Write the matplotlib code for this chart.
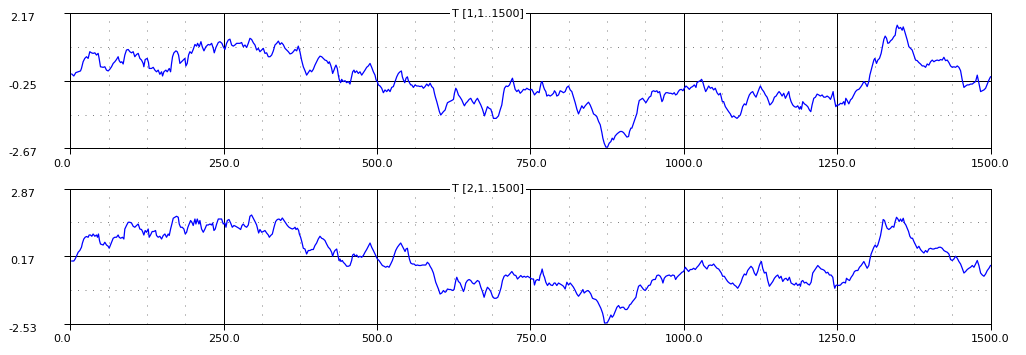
import matplotlib
matplotlib.use("Agg")
import matplotlib.pyplot as plt
from matplotlib.ticker import FixedLocator, MultipleLocator

# ---- data (sample index, value) ----
t1_x = [
    2.1, 5.4, 8.7, 12.5, 16.3, 17.9, 20.6, 23.3, 26.1, 28.8,
    31.5, 34.2, 36.9, 39.7, 42.4, 45.1, 46.7, 48.9, 53.3, 56.0,
    58.7, 61.4, 64.1, 66.9, 69.6, 72.3, 75.0, 77.7, 79.4, 81.6,
    83.7, 85.9, 88.6, 91.3, 94.1, 96.8, 99.5, 102.2, 104.9, 107.7,
    110.4, 113.1, 115.8, 118.5, 119.6, 121.8, 125.1, 127.2, 128.3, 132.1,
    134.9, 137.6, 140.3, 143.0, 145.7, 148.5, 150.1, 152.3, 155.5, 157.7,
    161.0, 163.2, 164.8, 166.4, 168.6, 171.9, 174.0, 176.2, 178.4, 181.1,
    183.8, 186.5, 188.2, 190.3, 192.5, 194.7, 197.4, 200.1, 202.9, 205.6,
    207.2, 209.9, 212.7, 214.8, 217.6, 220.8, 224.6, 227.3, 230.1, 232.8,
    234.4, 237.1, 241.0, 243.7, 246.9, 249.1, 251.8, 254.5, 257.3, 260.0,
    262.7, 265.4, 268.1, 270.9, 273.6, 276.3, 279.0, 281.7, 284.5, 287.2,
    289.9, 292.6, 295.3, 298.1, 300.8, 303.5, 306.2, 308.9, 311.7, 314.4,
    317.1, 319.8, 322.5, 325.3, 328.0, 330.7, 333.4, 336.2, 338.9, 341.6,
    344.3, 347.0, 349.8, 352.5, 355.2, 357.9, 360.6, 363.3, 366.0, 368.8,
    371.4, 374.1, 376.8, 379.6, 382.3, 385.0, 387.7, 390.4, 393.2, 395.9,
    398.6, 401.3, 404.0, 406.8, 409.5, 412.2, 414.9, 417.6, 420.4, 422.0,
    424.2, 425.8, 427.4, 429.6, 431.2, 432.9, 435.0, 436.7, 438.3, 440.5,
    442.1, 444.8, 447.6, 450.3, 453.0, 455.7, 458.4, 460.1, 462.2, 463.9,
    466.6, 469.3, 472.0, 474.8, 477.5, 480.2, 482.9, 485.6, 488.4, 491.1,
    493.8, 496.5, 498.2, 500.3, 502.0, 504.7, 507.4, 510.1, 512.8, 515.6,
    518.3, 521.0, 523.7, 526.4, 529.2, 531.9, 534.6, 537.3, 539.5, 541.1,
    542.8, 545.0, 547.1, 549.3, 550.9, 552.6, 554.7, 556.4, 559.1, 561.8,
    564.5, 567.2, 570.0, 572.7, 575.4, 578.1, 580.8, 583.6, 586.3, 589.0,
    591.7, 593.4, 595.0, 597.2, 599.3, 601.5, 603.7, 605.9, 608.0, 610.8,
    612.4, 614.6, 617.8, 621.6, 624.4, 626.0, 628.2, 629.8, 632.5, 635.2,
    638.0, 640.7, 642.3, 644.5, 647.2, 649.9, 652.6, 655.4, 658.1, 660.8,
    663.5, 666.2, 669.0, 671.7, 675.0, 677.1, 679.8, 682.6, 685.3, 687.5,
    689.6, 694.0, 697.8, 700.5, 703.2, 706.0, 707.6, 710.3, 713.0, 715.8,
    718.5, 720.6, 722.3, 725.0, 727.7, 730.4, 733.2, 735.9, 738.6, 741.3,
    744.0, 746.8,
    749.4, 752.1, 754.9, 756.5, 758.7, 761.4, 764.1, 765.7, 767.4, 769.0,
    771.2, 772.8, 775.0, 776.6, 779.3, 782.1, 784.8, 787.5, 789.1, 791.3,
    792.9, 795.7, 798.4, 801.1, 803.8, 806.5, 809.3, 812.0, 814.7, 817.4,
    820.1, 822.9, 825.6, 828.3, 831.0, 833.7, 836.5, 839.2, 841.9, 844.6,
    847.3, 850.1, 852.8, 855.5, 858.2, 861.0, 863.7, 866.4, 868.0, 870.2,
    872.9, 875.6, 878.3, 881.1, 883.2, 885.4, 888.1, 890.9, 893.6, 896.3,
    899.0, 901.7, 904.5, 907.2, 909.9, 911.5, 913.7, 915.3, 918.1, 920.8,
    923.5, 925.1, 927.3, 930.0, 932.7, 935.5, 938.2, 940.9, 943.6, 946.3,
    948.0, 950.7, 953.4, 956.1, 957.8, 960.5, 962.7, 964.3, 965.9, 968.1,
    970.8, 973.5, 976.3, 979.0, 981.7, 984.4, 986.6, 988.8, 991.0, 993.1,
    995.9, 998.6, 1000.7, 1003.5, 1006.2, 1008.9, 1011.6, 1014.3, 1017.1, 1019.8,
    1021.4, 1024.1, 1026.9, 1029.0, 1031.2, 1033.4, 1035.6, 1037.7, 1040.5, 1043.2,
    1045.9, 1048.6, 1051.3, 1054.1, 1056.8, 1059.5, 1061.1, 1062.8, 1064.9, 1067.7,
    1070.4, 1073.1, 1075.8, 1078.5, 1081.3, 1084.0, 1086.7, 1089.4, 1092.1, 1093.8,
    1095.9, 1098.7, 1101.4, 1104.1, 1106.8, 1109.5, 1112.3, 1115.0, 1117.7, 1120.4,
    1123.1, 1124.8,
    1127.5, 1130.3, 1133.0, 1135.7, 1138.4, 1140.1, 1142.2, 1145.0, 1147.7, 1150.4,
    1153.1, 1155.3, 1157.5, 1160.2, 1162.9, 1165.6, 1168.3, 1171.1, 1172.7, 1174.9,
    1177.6, 1180.3, 1183.0, 1185.7, 1188.5, 1190.1, 1191.7, 1193.9, 1196.6, 1199.3,
    1202.1, 1204.8, 1207.0, 1209.1, 1211.9, 1214.6, 1217.3, 1220.0, 1222.7, 1225.5,
    1228.2, 1230.9, 1233.6, 1236.3, 1239.1, 1241.8, 1243.4, 1244.5, 1246.1, 1247.8,
    1249.9, 1252.7, 1255.4, 1258.1, 1260.8, 1262.5, 1264.1, 1266.3, 1269.0, 1271.7,
    1274.4, 1277.1, 1279.9, 1282.6, 1285.3, 1288.0, 1290.7, 1293.5, 1296.2, 1298.9,
    1301.6, 1303.3, 1305.4, 1307.6, 1309.8, 1311.4, 1314.1, 1316.3, 1319.0, 1321.7,
    1323.9, 1326.1, 1328.3, 1330.5, 1332.6, 1334.8, 1337.0, 1339.7, 1342.4, 1344.6,
    1346.2, 1347.9, 1350.6, 1353.3, 1356.0, 1357.7, 1359.8, 1362.0, 1364.2, 1366.9,
    1369.6, 1372.3, 1375.1, 1377.8, 1380.5, 1383.2, 1385.9, 1388.7, 1391.4, 1394.1,
    1396.8, 1399.5, 1402.3, 1405.0, 1407.7, 1410.4, 1413.1, 1415.9, 1418.6, 1421.3,
    1424.0, 1426.7, 1429.5, 1432.2, 1434.9, 1437.6, 1440.3, 1443.1, 1445.8, 1448.5,
    1451.2, 1453.9, 1456.7, 1459.4, 1462.1, 1464.8, 1467.5, 1470.3, 1473.0, 1475.7,
    1478.4, 1481.1, 1483.9, 1486.6, 1489.3, 1492.0, 1494.7, 1497.5, 1500.0,
]
t1_y = [
    0.00, -0.07, 0.05, 0.08, 0.11, 0.20, 0.44, 0.56, 0.62, 0.56,
    0.80, 0.76, 0.74, 0.76, 0.68, 0.74, 0.56, 0.26, 0.24, 0.26,
    0.14, 0.11, 0.17, 0.26, 0.38, 0.44, 0.52, 0.62, 0.48, 0.41,
    0.44, 0.36, 0.68, 0.86, 0.88, 0.80, 0.76, 0.80, 0.62, 0.70,
    0.74, 0.56, 0.50, 0.38, 0.26, 0.52, 0.56, 0.41, 0.20, 0.20,
    0.24, 0.14, 0.08, 0.14, -0.01, 0.08, -0.07, 0.08, 0.14, 0.08,
    0.20, 0.08, 0.38, 0.62, 0.76, 0.83, 0.80, 0.68, 0.38, 0.44,
    0.50, 0.56, 0.29, 0.38, 0.68, 0.80, 0.74, 0.88, 1.06, 1.00,
    1.10, 0.98, 1.16, 0.98, 0.83, 0.98, 1.06, 1.04, 1.10, 0.92,
    0.76, 0.95, 1.13, 1.16, 1.10, 0.98, 0.88, 1.10, 1.22, 1.25,
    1.04, 1.00, 1.04, 1.10, 1.10, 1.10, 1.13, 0.98, 1.04, 0.95,
    1.10, 1.28, 1.24, 1.12, 1.04, 0.86, 0.92, 0.80, 0.86, 0.92,
    0.74, 0.76, 0.62, 0.62, 0.68, 0.83, 1.04, 1.10, 1.18, 1.06,
    1.12, 1.05, 0.92, 0.86, 0.80, 0.72, 0.74, 0.80, 0.88, 0.83,
    1.00, 0.80, 0.50, 0.26, 0.12, -0.04, 0.05, 0.14, 0.08, 0.17,
    0.32, 0.44, 0.56, 0.64, 0.62, 0.56, 0.50, 0.48, 0.38, 0.44,
    0.32, 0.20, 0.02, 0.14, 0.24, 0.32, 0.20, -0.04, -0.21, -0.31,
    -0.19, -0.27, -0.24, -0.31, -0.27, -0.36, -0.10, 0.08, 0.14, 0.05,
    0.11, 0.02, 0.08, -0.04, 0.05, 0.14, 0.24, 0.29, 0.38, 0.24,
    0.08, -0.04, -0.21, -0.27, -0.39, -0.43, -0.51, -0.67, -0.57, -0.63,
    -0.55, -0.63, -0.48, -0.45, -0.27, -0.10, 0.02, 0.08, 0.11, -0.10,
    -0.21, -0.31, -0.15, -0.10, -0.24, -0.31, -0.39, -0.39, -0.48, -0.39,
    -0.43, -0.43, -0.45, -0.43, -0.51, -0.45, -0.36, -0.43, -0.33, -0.45,
    -0.51, -0.69, -0.83, -0.99, -1.17, -1.35, -1.47, -1.41, -1.35, -1.29,
    -1.17, -1.03, -0.99, -0.95, -0.91, -0.69, -0.51, -0.57, -0.75, -0.83,
    -0.93, -1.07, -1.14, -1.05, -0.99, -0.91, -0.87, -0.99, -1.07, -0.95,
    -0.87, -0.99, -1.11, -1.26, -1.50, -1.35, -1.17, -1.23, -1.26, -1.41,
    -1.59, -1.59, -1.50, -1.29, -1.11, -0.69, -0.51, -0.43, -0.45, -0.39,
    -0.24, -0.15, -0.31, -0.55, -0.63, -0.57, -0.69, -0.63, -0.55, -0.57,
    -0.51, -0.55,
    -0.57, -0.55, -0.67, -0.75, -0.69, -0.63, -0.67, -0.48, -0.31, -0.27,
    -0.45, -0.55, -0.63, -0.79, -0.75, -0.79, -0.75, -0.69, -0.60, -0.67,
    -0.79, -0.75, -0.60, -0.63, -0.67, -0.63, -0.48, -0.43, -0.57, -0.63,
    -0.83, -1.03, -1.26, -1.43, -1.29, -1.14, -1.23, -1.14, -1.07, -1.01,
    -1.11, -1.26, -1.43, -1.47, -1.53, -1.70, -1.82, -2.10, -2.30, -2.48,
    -2.62, -2.62, -2.48, -2.42, -2.30, -2.36, -2.22, -2.15, -2.10, -2.06,
    -2.06, -2.10, -2.18, -2.26, -2.24, -2.06, -1.94, -1.94, -1.76, -1.59,
    -1.41, -1.17, -0.95, -0.91, -0.87, -0.95, -1.03, -0.93, -0.83, -0.79,
    -0.63, -0.60, -0.63, -0.60, -0.67, -0.63, -0.83, -0.99, -0.93, -0.75,
    -0.67, -0.67, -0.69, -0.69, -0.72, -0.67, -0.75, -0.72, -0.63, -0.57,
    -0.55, -0.60, -0.51, -0.43, -0.48, -0.55, -0.48, -0.45, -0.39, -0.48,
    -0.31, -0.27, -0.24, -0.19, -0.31, -0.48, -0.63, -0.55, -0.43, -0.51,
    -0.48, -0.57, -0.51, -0.67, -0.75, -0.69, -0.83, -0.99, -0.99, -1.17,
    -1.26, -1.35, -1.43, -1.55, -1.50, -1.55, -1.59, -1.53, -1.47, -1.35,
    -1.17, -1.07, -1.11, -0.91, -0.75, -0.67, -0.63, -0.75, -0.83, -0.67,
    -0.51, -0.43,
    -0.55, -0.63, -0.75, -0.83, -0.99, -1.11, -1.07, -0.99, -0.83, -0.79,
    -0.69, -0.63, -0.69, -0.79, -0.69, -0.87, -0.75, -0.63, -0.83, -0.99,
    -1.11, -1.17, -1.19, -1.14, -1.26, -1.17, -1.26, -0.99, -1.07, -1.11,
    -1.17, -1.29, -1.35, -1.11, -0.87, -0.83, -0.72, -0.75, -0.79, -0.75,
    -0.83, -0.83, -0.79, -0.83, -0.91, -0.75, -0.63, -0.81, -0.99, -1.17,
    -1.11, -1.11, -1.05, -1.07, -0.99, -1.11, -0.87, -0.95, -1.07, -0.93,
    -0.87, -0.75, -0.63, -0.57, -0.55, -0.48, -0.39, -0.27, -0.33, -0.45,
    -0.27, -0.04, 0.14, 0.32, 0.50, 0.56, 0.38, 0.50, 0.56, 0.74,
    0.98, 1.24, 1.36, 1.28, 1.10, 1.12, 1.19, 1.24, 1.34, 1.39,
    1.63, 1.75, 1.63, 1.67, 1.57, 1.69, 1.55, 1.39, 1.22, 0.98,
    0.92, 0.86, 0.68, 0.50, 0.48, 0.41, 0.36, 0.29, 0.29, 0.24,
    0.36, 0.32, 0.44, 0.50, 0.44, 0.48, 0.50, 0.48, 0.52, 0.50,
    0.60, 0.48, 0.50, 0.41, 0.29, 0.24, 0.26, 0.24, 0.29, 0.24,
    0.12, -0.21, -0.48, -0.43, -0.39, -0.39, -0.36, -0.36, -0.31, -0.27,
    -0.04, -0.33, -0.63, -0.60, -0.57, -0.51, -0.36, -0.21, -0.10,
]

t2_x = [
    2.1, 5.4, 7.6, 9.7, 12.5, 15.2, 17.9, 19.5, 21.7, 23.9,
    26.1, 28.8, 30.4, 32.6, 34.8, 36.9, 39.7, 42.4, 44.0, 45.6,
    47.3, 48.9, 53.3, 56.0, 58.7, 61.4, 63.1, 65.2, 67.4, 69.6,
    72.3, 75.0, 77.7, 79.4, 81.6, 84.8, 87.0, 88.6, 91.3, 94.1,
    96.8, 99.5, 102.2, 104.9, 107.7, 110.4, 113.1, 115.8, 117.5, 119.6,
    121.8, 124.0, 126.7, 128.3, 130.5, 133.2, 135.9, 138.7, 140.3, 143.0,
    145.7, 148.5, 151.2, 153.9, 156.6, 159.3, 161.0, 163.2, 165.3, 167.5,
    170.2, 172.9, 175.7, 177.3, 179.5, 182.2, 184.9, 187.1, 189.3, 191.4,
    193.6, 195.8, 198.0, 200.1, 202.9, 204.5, 206.7, 209.4, 211.0, 213.7,
    216.5, 219.2, 221.9, 224.6, 227.3, 230.1, 231.7, 233.9, 236.0, 238.2,
    241.0, 243.7, 246.4, 249.1, 251.8, 253.5, 255.6, 258.4, 261.1, 263.8,
    266.5, 269.2, 271.9, 274.7, 277.4, 279.6, 281.7, 284.5, 287.2, 289.9,
    292.6, 295.3, 298.1, 300.8, 303.5, 305.1, 306.8, 308.9, 311.7, 314.4,
    317.1, 319.8, 322.5, 324.2, 326.4, 329.1, 331.8, 334.5, 337.2, 340.0,
    342.7, 345.4, 348.1, 350.8, 353.6, 356.3, 359.0, 361.7, 364.4, 366.1,
    367.7, 369.9, 372.0, 373.1,
    375.2, 377.4, 379.6, 382.3, 385.0, 387.7, 390.4, 393.2, 395.9, 398.6,
    401.3, 404.0, 406.8, 409.5, 412.2, 414.9, 417.6, 420.4, 423.1, 425.8,
    427.4, 429.6, 431.2, 434.0, 435.6, 437.8, 439.4, 441.0, 443.2, 444.8,
    447.6, 450.3, 453.0, 455.7, 458.4, 460.1, 462.2, 463.9, 466.6, 469.3,
    472.0, 474.8, 477.5, 480.2, 482.9, 485.6, 488.4, 491.1, 493.8, 496.5,
    498.2, 500.3, 503.0, 505.8, 508.5, 511.2, 513.9, 516.6, 519.4, 522.1,
    524.8, 527.5, 530.2, 533.0, 535.7, 538.4, 540.0, 542.8, 545.5, 547.1,
    549.3, 550.9, 552.6, 554.7, 557.4, 560.2, 562.9, 565.6, 568.3, 571.0,
    573.8, 576.5, 579.2, 581.9, 584.6, 586.3, 589.0, 591.7, 593.4, 595.5,
    597.7, 599.9, 602.6, 605.3, 608.0, 610.8, 612.4, 614.6, 617.3, 620.0,
    622.7, 625.4, 628.2, 629.8, 632.5, 635.2, 638.0, 640.7, 642.3, 644.5,
    647.2, 649.9, 652.6, 655.4, 658.1, 660.8, 663.5, 666.2, 669.0, 671.7,
    674.4, 677.1, 679.8, 682.6, 685.3, 688.0, 690.7, 694.0, 696.7, 699.4,
    702.2, 704.3, 707.0, 709.8, 712.5, 714.7, 717.4, 719.6, 721.2, 723.4,
    726.1, 728.8, 731.5, 734.2, 737.0, 739.7, 742.4, 745.1, 747.8,
    752.1, 754.9, 756.5, 758.7, 761.4, 764.1, 765.7, 767.4, 769.0, 771.2,
    772.8, 775.0, 777.7, 780.4, 783.1, 785.9, 788.6, 790.2, 792.9, 795.7,
    798.4, 801.1, 803.8, 806.5, 809.3, 812.0, 814.7, 817.4, 820.1, 822.9,
    825.6, 828.3, 831.0, 833.7, 835.4, 837.5, 840.3, 843.0, 845.7, 848.4,
    851.1, 853.9, 856.6, 859.3, 862.0, 864.7, 867.5, 869.1, 870.7, 873.5,
    875.6, 878.3, 881.1, 883.2, 885.4, 888.1, 890.9, 893.6, 896.3, 899.0,
    901.7, 904.5, 907.2, 909.9, 911.5, 913.7, 916.4, 919.1, 921.9, 923.5,
    926.2, 929.0, 931.7, 934.4, 937.1, 939.8, 942.5, 945.3, 948.0, 950.7,
    953.4, 956.1, 958.9, 961.6, 964.3, 965.9, 968.1, 970.8, 973.5, 976.3,
    979.0, 981.7, 984.4, 986.6, 988.8, 991.5, 994.2, 996.9, 999.7, 1002.4,
    1005.1, 1007.8, 1010.5, 1013.3, 1016.0, 1018.7, 1021.4, 1024.1, 1026.9, 1029.6,
    1032.3, 1035.0, 1037.7, 1040.5, 1043.2, 1045.9, 1048.6, 1051.3, 1054.1, 1056.8,
    1059.5, 1061.1, 1063.3, 1066.0, 1068.7, 1071.5, 1074.2, 1076.9, 1079.6, 1082.3,
    1085.1, 1087.8, 1090.5, 1093.2, 1095.9, 1098.7, 1101.4, 1104.1, 1106.8, 1109.5,
    1112.3, 1115.0, 1117.7, 1120.4, 1123.1, 1124.8,
    1126.5, 1128.6, 1131.3, 1134.1, 1136.8, 1139.5, 1142.2, 1145.0, 1147.7, 1150.4,
    1153.1, 1155.8, 1158.5, 1161.3, 1164.0, 1166.7, 1169.4, 1172.1, 1174.9, 1177.6,
    1180.3, 1183.0, 1185.7, 1188.5, 1190.1, 1191.7, 1193.9, 1196.6, 1199.3, 1202.1,
    1204.8, 1207.5, 1210.2, 1213.0, 1215.7, 1218.4, 1221.1, 1223.8, 1226.5, 1229.3,
    1232.0, 1234.7, 1237.4, 1240.1, 1242.9, 1244.5, 1246.1, 1247.8, 1249.9, 1252.7,
    1255.4, 1258.1, 1260.8, 1263.5, 1265.2, 1267.3, 1270.1, 1272.8, 1275.5, 1278.2,
    1280.9, 1283.7, 1286.4, 1289.1, 1291.8, 1293.5, 1296.2, 1298.9, 1301.6, 1303.3,
    1305.4, 1307.6, 1309.8, 1312.0, 1314.1, 1316.3, 1318.5, 1320.7, 1322.8, 1325.0,
    1327.2, 1329.4, 1331.5, 1334.3, 1337.0, 1339.7, 1342.4, 1344.6, 1346.8, 1349.0,
    1351.1, 1353.3, 1355.5, 1357.7, 1359.8, 1362.0, 1364.2, 1366.4, 1368.5, 1370.7,
    1372.9, 1375.1, 1377.8, 1380.5, 1383.2, 1385.9, 1388.7, 1391.4, 1394.1, 1396.8,
    1399.5, 1402.3, 1405.0, 1407.7, 1410.4, 1413.1, 1415.9, 1418.6, 1421.3, 1424.0,
    1426.7, 1429.5, 1432.2, 1434.9, 1437.6, 1440.3, 1443.1, 1445.8, 1448.5, 1451.2,
    1453.9, 1456.7, 1459.4, 1462.1, 1464.8, 1467.5, 1470.3, 1473.0, 1475.7, 1478.4,
    1481.1, 1483.9, 1486.6, 1489.3, 1492.0, 1494.7, 1497.5, 1500.0,
]
t2_y = [
    -0.03, -0.03, 0.05, 0.16, 0.32, 0.39, 0.52, 0.69, 0.85, 0.92,
    0.95, 0.92, 1.01, 1.01, 0.96, 1.05, 0.96, 1.01, 0.92, 1.05,
    0.79, 0.65, 0.61, 0.72, 0.61, 0.56, 0.48, 0.61, 0.75, 0.88,
    0.92, 0.92, 1.01, 0.92, 0.88, 0.92, 0.85, 1.25, 1.39, 1.52,
    1.52, 1.49, 1.36, 1.32, 1.39, 1.45, 1.25, 1.23, 1.15, 1.01,
    1.19, 1.12, 1.25, 0.92, 1.01, 1.15, 1.15, 1.19, 0.99, 0.92,
    0.96, 0.85, 0.99, 1.05, 0.92, 1.05, 0.99, 1.25, 1.45, 1.68,
    1.72, 1.76, 1.72, 1.45, 1.32, 1.32, 1.25, 1.05, 1.12, 1.32,
    1.45, 1.59, 1.52, 1.39, 1.65, 1.45, 1.65, 1.45, 1.59, 1.25,
    1.12, 1.25, 1.41, 1.41, 1.45, 1.41, 1.49, 1.19, 1.25, 1.45,
    1.65, 1.65, 1.65, 1.45, 1.49, 1.32, 1.59, 1.63, 1.49, 1.32,
    1.39, 1.36, 1.32, 1.28, 1.23, 1.39, 1.45, 1.36, 1.32, 1.41,
    1.76, 1.81, 1.68, 1.55, 1.41, 1.25, 1.09, 1.23, 1.12, 1.15,
    1.19, 1.09, 1.01, 0.92, 0.99, 1.05, 1.32, 1.55, 1.63, 1.65,
    1.59, 1.69, 1.59, 1.49, 1.39, 1.32, 1.28, 1.25, 1.28, 1.32,
    1.23, 1.28, 1.19, 1.05,
    0.92, 0.72, 0.48, 0.45, 0.25, 0.39, 0.39, 0.43, 0.43, 0.59,
    0.69, 0.85, 0.96, 0.88, 0.85, 0.79, 0.65, 0.52, 0.45, 0.32,
    0.16, 0.32, 0.39, 0.45, 0.25, -0.01, 0.05, -0.05, -0.01, -0.08,
    -0.15, -0.24, -0.24, -0.21, -0.01, 0.21, 0.25, 0.16, 0.21, 0.12,
    0.16, 0.12, 0.19, 0.32, 0.43, 0.56, 0.69, 0.52, 0.39, 0.25,
    0.16, 0.05, -0.01, -0.11, -0.21, -0.24, -0.28, -0.24, -0.28, -0.15,
    -0.01, 0.19, 0.39, 0.52, 0.61, 0.69, 0.61, 0.48, 0.35, 0.45,
    0.48, 0.25, 0.05, -0.11, -0.15, -0.15, -0.21, -0.19, -0.21, -0.21,
    -0.19, -0.19, -0.19, -0.08, -0.15, -0.24, -0.35, -0.51, -0.68, -0.88,
    -1.01, -1.15, -1.35, -1.31, -1.21, -1.28, -1.25, -1.15, -1.17, -1.17,
    -1.21, -1.17, -0.81, -0.68, -0.85, -0.91, -1.08, -1.25, -1.15, -0.91,
    -0.81, -0.77, -0.81, -0.91, -0.95, -0.88, -0.81, -0.85, -1.08, -1.25,
    -1.48, -1.25, -1.08, -1.15, -1.25, -1.44, -1.52, -1.52, -1.48, -1.31,
    -1.08, -0.81, -0.64, -0.59, -0.64, -0.59, -0.51, -0.45, -0.51, -0.59,
    -0.61, -0.75, -0.68, -0.61, -0.68, -0.64, -0.68, -0.64, -0.68,
    -0.75, -0.75, -0.99, -0.81, -0.77, -0.81, -0.61, -0.51, -0.35, -0.59,
    -0.68, -0.88, -1.01, -0.91, -0.99, -1.01, -0.91, -0.91, -1.01, -0.91,
    -0.95, -0.99, -1.04, -1.15, -0.88, -0.99, -0.91, -0.99, -1.08, -1.21,
    -1.35, -1.44, -1.35, -1.25, -1.17, -1.31, -1.25, -1.21, -1.25, -1.35,
    -1.52, -1.55, -1.57, -1.65, -1.79, -1.92, -2.11, -2.28, -2.51, -2.51,
    -2.48, -2.35, -2.19, -2.28, -2.21, -2.05, -1.88, -1.81, -1.92, -1.88,
    -1.88, -1.97, -1.97, -1.88, -1.79, -1.75, -1.65, -1.57, -1.48, -1.28,
    -1.04, -0.99, -1.08, -1.17, -1.21, -1.12, -1.01, -0.99, -0.81, -0.77,
    -0.77, -0.61, -0.59, -0.64, -0.77, -0.91, -0.72, -0.64, -0.61, -0.59,
    -0.64, -0.59, -0.61, -0.77, -0.68, -0.61, -0.55, -0.48, -0.45, -0.28,
    -0.37, -0.45, -0.37, -0.37, -0.32, -0.37, -0.28, -0.21, -0.11, -0.01,
    -0.21, -0.28, -0.35, -0.21, -0.19, -0.21, -0.15, -0.24, -0.32, -0.35,
    -0.45, -0.51, -0.64, -0.64, -0.75, -0.85, -0.91, -0.95, -0.91, -0.99,
    -1.04, -1.12, -1.01, -0.88, -0.68, -0.55, -0.59, -0.41, -0.32, -0.24,
    -0.32, -0.51, -0.61, -0.45, -0.21, -0.11,
    -0.05, -0.32, -0.51, -0.48, -0.81, -1.04, -0.95, -0.85, -0.72, -0.64,
    -0.59, -0.72, -0.64, -0.85, -0.75, -0.72, -0.81, -0.68, -0.91, -0.95,
    -0.99, -0.91, -1.01, -0.95, -1.04, -0.85, -0.81, -0.91, -0.88, -0.95,
    -0.99, -0.88, -0.51, -0.41, -0.32, -0.21, -0.28, -0.35, -0.37, -0.41,
    -0.51, -0.48, -0.59, -0.59, -0.68, -0.95, -1.12, -1.01, -0.99, -1.01,
    -0.99, -0.91, -0.88, -0.91, -0.72, -0.77, -0.81, -0.68, -0.59, -0.45,
    -0.41, -0.41, -0.28, -0.21, -0.11, -0.05, -0.19, -0.32, -0.21, 0.03,
    0.25, 0.39, 0.52, 0.61, 0.52, 0.61, 0.79, 0.99, 1.28, 1.63,
    1.59, 1.41, 1.28, 1.23, 1.28, 1.36, 1.32, 1.55, 1.72, 1.65,
    1.55, 1.65, 1.55, 1.68, 1.49, 1.41, 1.28, 1.15, 0.96, 0.88,
    0.88, 0.75, 0.61, 0.48, 0.56, 0.43, 0.35, 0.29, 0.39, 0.32,
    0.45, 0.48, 0.45, 0.45, 0.48, 0.48, 0.52, 0.52, 0.48, 0.39,
    0.35, 0.32, 0.25, 0.03, -0.01, 0.05, 0.16, 0.08, -0.05, -0.15,
    -0.32, -0.51, -0.45, -0.37, -0.32, -0.28, -0.21, -0.28, -0.15, -0.01,
    -0.21, -0.51, -0.59, -0.64, -0.55, -0.41, -0.32, -0.21,
]

titles = ["T [1,1..1500]", "T [2,1..1500]"]
x_ticks = [0, 250, 500, 750, 1000, 1250, 1500]
y_ticks = [[-2.67, -0.25, 2.17], [-2.53, 0.17, 2.87]]
y_labels = [["-2.67", "-0.25", "2.17"], ["-2.53", "0.17", "2.87"]]

plt.rcParams["font.family"] = "DejaVu Sans"
plt.rcParams["font.size"] = 8

fig = plt.figure(figsize=(10.26, 3.55), dpi=100)
rects = [[0.0687, 0.5817, 0.8967, 0.3803],
         [0.0687, 0.0887, 0.8967, 0.3803]]
series = [(t1_x, t1_y), (t2_x, t2_y)]

for i, rect in enumerate(rects):
    ax = fig.add_axes(rect)
    xs, ys = series[i]
    ax.plot(xs, ys, color="#0000ff", lw=0.9, zorder=3)

    lo, mid, hi = y_ticks[i]
    ax.set_xlim(0, 1500)
    ax.set_ylim(lo, hi)
    ax.set_xticks(x_ticks)
    ax.set_xticklabels([f"{v:.1f}" for v in x_ticks])
    ax.set_yticks(y_ticks[i])
    ax.set_yticklabels(y_labels[i])

    # dotted minor grid (quarters vertically, 62.5 steps horizontally)
    ax.xaxis.set_minor_locator(MultipleLocator(62.5))
    ax.yaxis.set_minor_locator(FixedLocator([(lo + mid) / 2, (mid + hi) / 2]))
    ax.xaxis.grid(True, which="minor", color="#808080", lw=0.72, ls=(0, (1, 8)))
    ax.yaxis.grid(True, which="minor", color="#808080", lw=0.72, ls=(0, (1, 6.5)))
    ax.grid(True, which="major", color="black", lw=0.72)
    ax.set_axisbelow(True)

    ax.tick_params(which="major", direction="out", length=4.3, width=0.72,
                   color="black", labelsize=8)
    ax.tick_params(which="minor", length=0)
    ax.tick_params(axis="x", pad=3)
    ax.tick_params(axis="y", pad=29.9)
    plt.setp(ax.get_yticklabels(), ha="center", va="top")
    ax.get_xticklabels()[0].set_ha("right")

    for sp in ax.spines.values():
        sp.set_color("black")
        sp.set_linewidth(0.72)

    ax.text(0.4147, 1.0, titles[i], transform=ax.transAxes, ha="left",
            va="center", fontsize=8, zorder=5,
            bbox=dict(facecolor="white", edgecolor="none", pad=1.5))

fig.savefig("out.png", dpi=100)
